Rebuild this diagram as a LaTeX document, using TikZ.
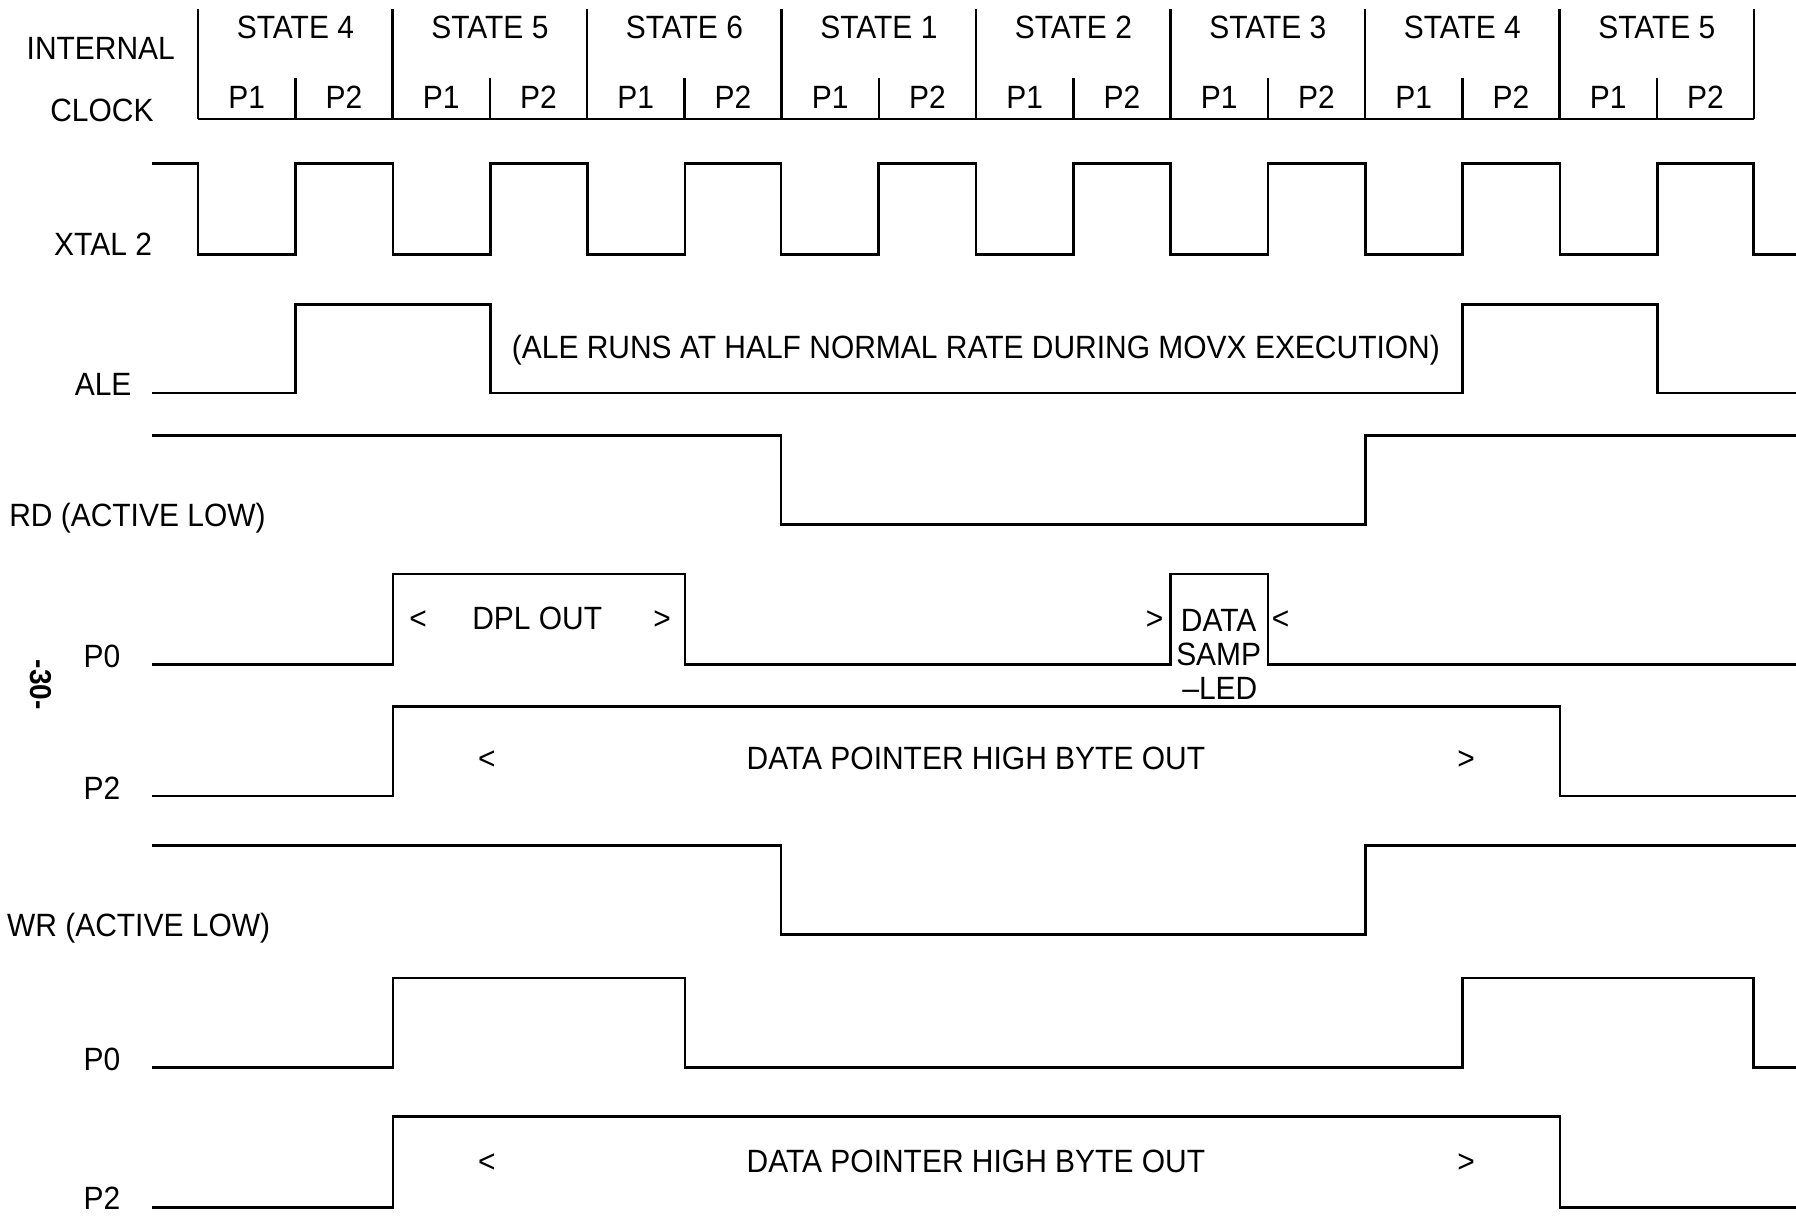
\documentclass[tikz,border=0pt]{standalone}
\usepackage{fontspec}
\setmainfont{Liberation Sans}[FakeStretch=0.93]
\begin{document}
\begin{tikzpicture}[x=0.01cm,y=-0.01cm,
  sig/.style={line width=0.65pt, line join=miter},
  txt/.style={anchor=base, inner sep=0pt, font=\fontsize{8}{9.5}\selectfont}]
\useasboundingbox (0,0) rectangle (1568,1064);

% ---------- internal clock header ----------
\node[txt] (intl) at (88,52) {INTERNAL};
\node[txt] (clk) at (89,106) {CLOCK};
\foreach \k in {0,2,...,16} \draw[sig] ({173+84.9*\k},8) -- ({173+84.9*\k},104);
\foreach \k in {1,3,...,15} \draw[sig] ({173+84.9*\k},68) -- ({173+84.9*\k},104);
\draw[sig] (173,104) -- (1531,104);
\foreach \s [count=\i from 0] in {4,5,6,1,2,3,4,5}
  \node[txt] (st\i) at ({173+84.9*(2*\i+1)},34) {STATE \s};
\foreach \k in {0,...,7} {
  \node[txt] (pa\k) at ({173+84.9*(2*\k+0.5)},95) {P1};
  \node[txt] (pb\k) at ({173+84.9*(2*\k+1.5)},95) {P2};
}

% ---------- XTAL 2 ----------
\node[txt] (xtal) at (90,223) {XTAL 2};
\draw[sig] (133,143) -- (173,143) |- (258,222) |- (343,143) |- (428,222) |- (513,143)
  |- (598,222) |- (682,143) |- (767,222) |- (852,143) |- (937,222) |- (1022,143)
  |- (1107,222) |- (1192,143) |- (1277,222) |- (1362,143) |- (1447,222)
  |- (1531,143) |- (1568,222);

% ---------- ALE ----------
\node[txt] (ale) at (90,345) {ALE};
\draw[sig] (133,343) -| (258,266) -| (428,343) -| (1277,266) -| (1447,343) -- (1568,343);
\node[txt] (alenote) at (852,313) {(ALE RUNS AT HALF NORMAL RATE DURING MOVX EXECUTION)};

% ---------- RD ----------
\node[txt] (rd) at (120,460) {RD (ACTIVE LOW)};
\draw[sig] (133,380) -| (682,458) -| (1192,380) -- (1568,380);

% ---------- P0 (read) ----------
\node[txt] (p0r) at (89,583) {P0};
\draw[sig] (133,580) -| (343,501) -| (598,580) -| (1022,501) -| (1107,580) -- (1568,580);
\node[txt] (lt1) at (365,550) {<};
\node[txt] (dpl) at (469,550) {DPL OUT};
\node[txt] (gt1) at (578,550) {>};
\node[txt] (gt2) at (1008,550) {>};
\node[txt] (ds1) at (1064,551) {DATA};
\node[txt] (ds2) at (1064,581) {SAMP};
\node[txt] (ds3) at (1065,611) {--LED};
\node[txt] (lt2) at (1118,550) {<};
\node[inner sep=0pt, font=\bfseries\fontsize{7.5}{9}\selectfont, rotate=-90] (page) at (36,598) {-30-};

% ---------- P2 (read) ----------
\node[txt] (p2r) at (89,698) {P2};
\draw[sig] (133,695) -| (343,617) -| (1362,695) -- (1568,695);
\node[txt] (lt3) at (425,672) {<};
\node[txt] (dph1) at (852,672) {DATA POINTER HIGH BYTE OUT};
\node[txt] (gt3) at (1280,672) {>};

% ---------- WR ----------
\node[txt] (wr) at (121,818) {WR (ACTIVE LOW)};
\draw[sig] (133,738) -| (682,816) -| (1192,738) -- (1568,738);

% ---------- P0 (write) ----------
\node[txt] (p0w) at (89,935) {P0};
\draw[sig] (133,932) -| (343,854) -| (598,932) -| (1277,854) -| (1531,932) -- (1568,932);

% ---------- P2 (write) ----------
\node[txt] (p2w) at (89,1056) {P2};
\draw[sig] (133,1054) -| (343,975) -| (1362,1054) -- (1568,1054);
\node[txt] (lt4) at (425,1024) {<};
\node[txt] (dph2) at (852,1024) {DATA POINTER HIGH BYTE OUT};
\node[txt] (gt4) at (1280,1024) {>};
\end{tikzpicture}
\end{document}
